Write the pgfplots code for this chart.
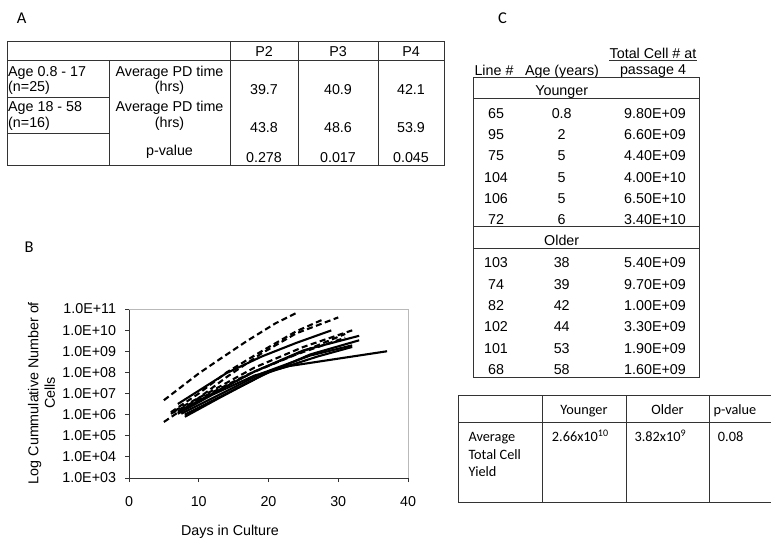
\documentclass[border=0pt]{standalone}
\usepackage{pgfplots}
\pgfplotsset{compat=1.18}
\usepackage{fontspec}
\setmainfont{Liberation Sans}
\newfontfamily\calfont{Carlito}
\definecolor{rule}{gray}{0.2}
\begin{document}
\fontsize{14.3}{17}\selectfont
\begin{tikzpicture}
\useasboundingbox (0pt,0pt) rectangle (771pt,-541pt);
\begin{scope}[x=1pt,y=-1pt,every node/.style={inner sep=0pt,font=\fontsize{14.3}{17}\selectfont}]
% panel letters
\node[font=\calfont\fontsize{16.5}{18}\selectfont] at (21.7,18.7) {A};
\node[font=\calfont\fontsize{16.5}{18}\selectfont] at (29,247) {B};
\node[font=\calfont\fontsize{16.5}{18}\selectfont] at (502.5,18.3) {C};
% ---------- table A ----------
\begin{scope}[draw=rule,line width=0.9pt]
\draw (7,41) rectangle (444,165);
\draw (7,60) -- (444,60);
\draw (109,60) -- (109,165);
\draw (230,41) -- (230,165);
\draw (298,41) -- (298,165);
\draw (378,41) -- (378,165);
\draw (7,97) -- (109,97);
\draw (7,133) -- (109,133);
\end{scope}
\node[anchor=base] at (264,56.7) {P2};
\node[anchor=base] at (338,56.7) {P3};
\node[anchor=base] at (411,56.7) {P4};
\node[anchor=base west] at (8,76) {Age 0.8 - 17};
\node[anchor=base west] at (8,91.5) {(n=25)};
\node[anchor=base] at (169.5,76) {Average PD time};
\node[anchor=base] at (169.5,91.5) {(hrs)};
\node[anchor=base] at (264,94) {39.7};
\node[anchor=base] at (338,94) {40.9};
\node[anchor=base] at (411,94) {42.1};
\node[anchor=base west] at (8,111.7) {Age 18 - 58};
\node[anchor=base west] at (8,127.5) {(n=16)};
\node[anchor=base] at (169.5,111.7) {Average PD time};
\node[anchor=base] at (169.5,127.5) {(hrs)};
\node[anchor=base] at (264,132.2) {43.8};
\node[anchor=base] at (338,132.2) {48.6};
\node[anchor=base] at (411,132.2) {53.9};
\node[anchor=base] at (169.5,155.5) {p-value};
\node[anchor=base] at (264,162) {0.278};
\node[anchor=base] at (338,162) {0.017};
\node[anchor=base] at (411,162) {0.045};
% ---------- table C ----------
\node[anchor=base] at (653,58.3) {Total Cell \# at};
\node[anchor=base] at (494,75) {Line \#};
\node[anchor=base] at (562,75) {Age (years)};
\node[anchor=base] at (653,74.5) {passage 4};
\begin{scope}[draw=rule,line width=0.9pt]
\draw (609,60.5) -- (697,60.5);
\draw (475,77.3) -- (513,77.3);
\draw (523,77.3) -- (601,77.3);
\draw (619,77.3) -- (687,77.3);
\draw (473.3,77.3) rectangle (699.3,377);
\draw (473.3,98.3) -- (699.3,98.3);
\draw (473.3,226.7) -- (699.3,226.7);
\draw (473.3,248.3) -- (699.3,248.3);
\end{scope}
\node[anchor=base] at (561.7,95) {Younger};
\node[anchor=base] at (561.7,245.5) {Older};
\foreach \a/\b/\c [count=\i from 0] in {65/0.8/9.80E+09,95/2/6.60E+09,75/5/4.40E+09,104/5/4.00E+10,106/5/6.50E+10,72/6/3.40E+10}{
  \node[anchor=base] at (496,{118.3+21.33*\i}) {\a};
  \node[anchor=base] at (561.7,{118.3+21.33*\i}) {\b};
  \node[anchor=base] at (655,{118.3+21.33*\i}) {\c};
}
\foreach \a/\b/\c [count=\i from 0] in {103/38/5.40E+09,74/39/9.70E+09,82/42/1.00E+09,102/44/3.30E+09,101/53/1.90E+09,68/58/1.60E+09}{
  \node[anchor=base] at (496,{267.7+21.33*\i}) {\a};
  \node[anchor=base] at (561.7,{267.7+21.33*\i}) {\b};
  \node[anchor=base] at (655,{267.7+21.33*\i}) {\c};
}
% ---------- lower table ----------
\begin{scope}[draw=rule,line width=0.9pt]
\draw (771,395) -- (458,395) -- (458,502) -- (771,502);
\draw (458,422) -- (771,422);
\draw (542,395) -- (542,502);
\draw (626,395) -- (626,502);
\draw (709,395) -- (709,502);
\end{scope}
\begin{scope}[every node/.style={inner sep=0pt,font=\calfont\fontsize{14.3}{17}\selectfont}]
\node[anchor=base] at (584,414) {Younger};
\node[anchor=base] at (667.5,414) {Older};
\node[anchor=base west] at (713.3,414) {p-value};
\node[anchor=base west] at (468.3,441.7) {Average};
\node[anchor=base west] at (468.3,459) {Total Cell};
\node[anchor=base west] at (468.3,476.7) {Yield};
\node[anchor=base west] at (551.7,441.7) {2.66x10\textsuperscript{10}};
\node[anchor=base west] at (634.3,441.7) {3.82x10\textsuperscript{9}};
\node[anchor=base west] at (717.7,441.7) {0.08};
\end{scope}
\end{scope}
% ---------- panel B ----------
\begin{axis}[
  at={(129pt,-478pt)}, anchor=south west,
  width=279pt, height=169pt, scale only axis,
  xmin=0, xmax=40, ymin=1e3, ymax=1e11, ymode=log,
  xtick={0,10,20,30,40},
  ytick={1e3,1e4,1e5,1e6,1e7,1e8,1e9,1e10,1e11},
  yticklabels={1.0E+03,1.0E+04,1.0E+05,1.0E+06,1.0E+07,1.0E+08,1.0E+09,1.0E+10,1.0E+11},
  yminorticks=false,
  /pgf/number format/assume math mode=true,
  axis x line*=bottom, axis y line*=left,
  axis line style={rule,line width=0.9pt},
  tick align=outside, major tick length=4pt,
  tick style={rule,line width=0.9pt},
  tick label style={font=\fontsize{14.3}{17}\selectfont},
  xticklabel style={yshift=-10pt},
  yticklabel style={xshift=-4pt},
  xlabel={Days in Culture},
  xlabel style={at={(axis description cs:0.362,-0.3195)},anchor=center,font=\fontsize{14.3}{17}\selectfont},
  ylabel={Log Cummulative Number of\\Cells},
  ylabel style={at={(axis description cs:-0.3136,0.503)},anchor=center,align=center,font=\fontsize{14.3}{16.7}\selectfont},
  clip=false,
]
\draw[gray!55,line width=0.9pt] (rel axis cs:0,1) -- (rel axis cs:1,1) -- (rel axis cs:1,0);
\pgfplotsset{dsh/.style={black,line width=2.1pt,dash pattern=on 6pt off 3.5pt},sld/.style={black,line width=2.1pt}}
% younger (dashed)
\addplot[dsh] coordinates {(5,4.8e6) (10,8.9e7) (13,4.2e8) (17,3.2e9) (21,2.1e10) (24,6.5e10)};
\addplot[dsh] coordinates {(5,4.5e5) (9,3.5e6) (14,6.0e7) (19,7.9e8) (24,7.1e9) (30,4.0e10)};
\addplot[dsh] coordinates {(6,1.3e6) (10,1.0e7) (14,1.0e8) (19,1.0e9) (24,8.9e9) (28,3.4e10)};
\addplot[dsh] coordinates {(6.5,1.5e6) (12,1.4e7) (18,1.7e8) (25,1.6e9) (32,9.8e9)};
\addplot[dsh] coordinates {(7,1.2e6) (12,1.0e7) (18,1.1e8) (25,1.0e9) (31,6.6e9)};
\addplot[dsh] coordinates {(6,1.1e6) (11,7.9e6) (17,7.9e7) (24,7.1e8) (31,4.4e9)};
% older (solid)
\addplot[sld] coordinates {(7,3.2e6) (14,9.3e7) (19,5.6e8) (24,2.5e9) (29,9.7e9)};
\addplot[sld] coordinates {(7,1.4e6) (12,1.0e7) (18,1.1e8) (25,1.1e9) (33,5.4e9)};
\addplot[sld] coordinates {(7,1.1e6) (12,8.9e6) (18,7.1e7) (23,2.0e8) (37,1.0e9)};
\addplot[sld] coordinates {(8,7.9e5) (13,6.3e6) (19,7.1e7) (26,7.1e8) (33,3.3e9)};
\addplot[sld] coordinates {(7.5,1.1e6) (13,8.9e6) (19,8.9e7) (26,6.3e8) (32,1.9e9)};
\addplot[sld] coordinates {(8,1.0e6) (14,1.0e7) (20,1.0e8) (27,5.6e8) (32,1.6e9)};
\end{axis}
\end{tikzpicture}
\end{document}
